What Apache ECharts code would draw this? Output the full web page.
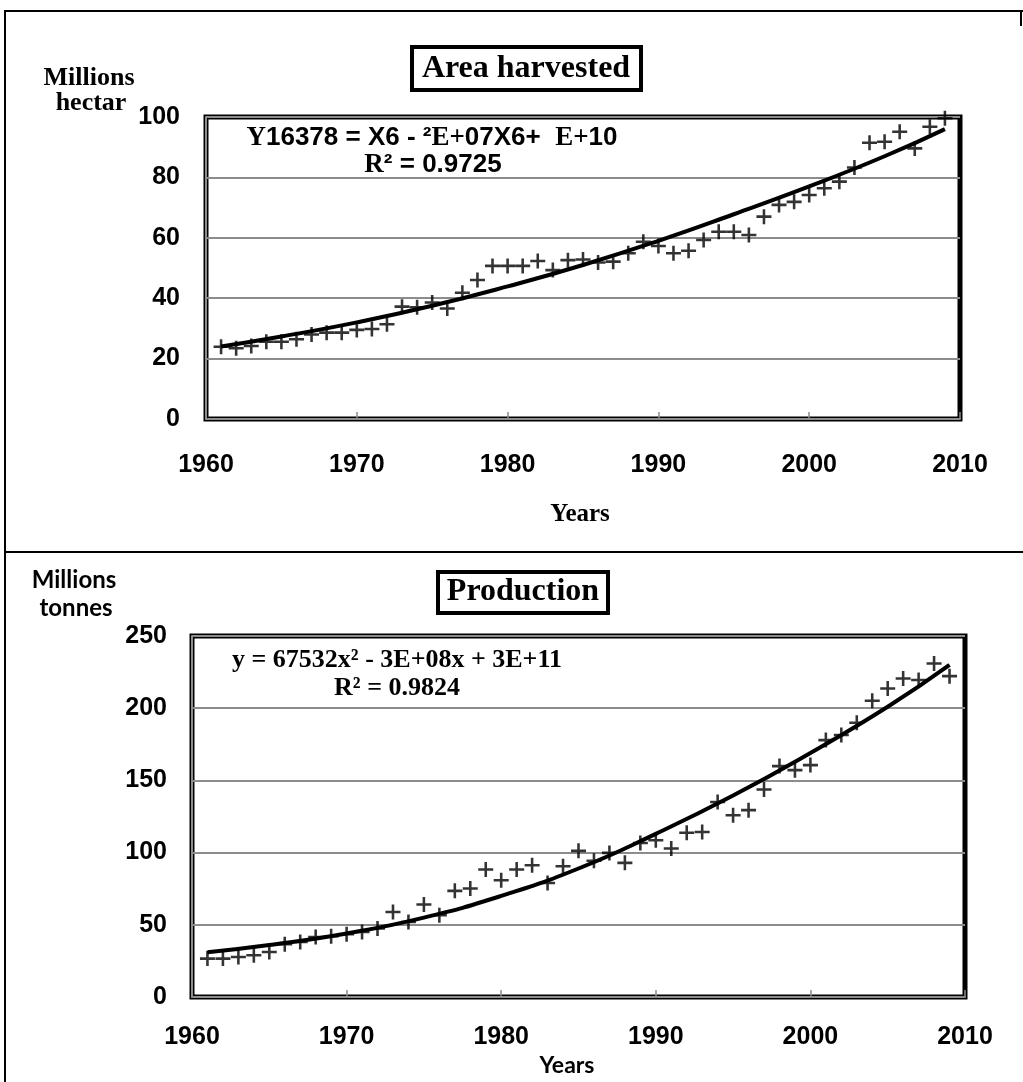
<!DOCTYPE html>
<html><head><meta charset="utf-8">
<script src="https://cdn.jsdelivr.net/npm/echarts@6/dist/echarts.min.js"></script>
<style>html,body{margin:0;padding:0;background:#fff}#c{width:1023px;height:1082px}</style>
</head><body><div id="c"></div>
<script>
// ---- data ----
const years = [1961,1962,1963,1964,1965,1966,1967,1968,1969,1970,1971,1972,1973,1974,1975,1976,1977,1978,1979,1980,1981,1982,1983,1984,1985,1986,1987,1988,1989,1990,1991,1992,1993,1994,1995,1996,1997,1998,1999,2000,2001,2002,2003,2004,2005,2006,2007,2008,2009];
const areaHarvested = [23.9,23.4,24.2,25.6,25.6,26.4,28.0,28.6,28.6,29.5,29.8,31.4,37.2,37.0,38.6,36.6,41.8,46.0,50.7,50.7,50.7,52.3,49.3,52.6,52.8,51.8,52.1,54.9,58.7,57.3,54.9,55.7,59.3,62.0,62.0,60.9,67.0,70.9,71.9,74.2,76.4,78.6,83.3,91.5,91.8,95.1,89.6,96.8,99.6];
const production = [26.6,26.6,27.7,28.9,31.2,36.5,38.1,41.6,42.1,43.4,45.0,47.4,58.9,52.0,64.0,56.6,73.5,75.1,88.3,80.9,88.3,91.3,79.0,90.6,101.2,94.4,99.8,92.9,106.7,108.6,102.8,113.7,114.3,135.1,125.9,129.4,143.7,159.9,157.1,160.6,177.9,181.4,189.9,205.1,213.7,220.6,219.5,231.0,222.2];
const trendYears = [1961,1965,1970,1975,1980,1985,1990,1995,2000,2005,2009];
const areaTrend = [24,27.3,32,37.5,43.9,51,59,67.8,77,87,96];
const productionTrend = [31,36,44,55,70,89,113,139.5,169,201,230];
const xTickYears = [1960,1970,1980,1990,2000,2010];
const areaTicks = [0,20,40,60,80,100];
const productionTicks = [0,50,100,150,200,250];

// ---- chart ----
const SANS = '"Liberation Sans", Arial, sans-serif';
const SERIF = '"Liberation Serif", "Times New Roman", serif';
const LATO = 'Lato, "Open Sans", sans-serif';
const plusPath = 'path://M5.8,0h2.4v5.8h5.8v2.4h-5.8v5.8h-2.4v-5.8h-5.8v-2.4h5.8z';

function xAxisCfg(gi, margin) {
  return {type:'value', gridIndex:gi, min:xTickYears[0], max:xTickYears[xTickYears.length-1], interval:10,
    axisLine:{show:true, onZero:false, lineStyle:{color:'#8c8c8c', width:2}},
    axisTick:{show:true, inside:true, length:7, lineStyle:{color:'#8c8c8c', width:1.5}},
    splitLine:{show:false},
    axisLabel:{margin:margin, color:'#000', fontFamily:SANS, fontWeight:'bold', fontSize:25, formatter:function(v){return String(v);}}};
}
function yAxisCfg(gi, ticks, margin) {
  return {type:'value', gridIndex:gi, min:ticks[0], max:ticks[ticks.length-1], interval:ticks[1]-ticks[0],
    axisLine:{show:true, onZero:false, lineStyle:{color:'#8c8c8c', width:2}},
    axisTick:{show:false},
    splitLine:{show:true, lineStyle:{color:'#8c8c8c', width:2}},
    axisLabel:{margin:margin, color:'#000', fontFamily:SANS, fontWeight:'bold', fontSize:25}};
}
function txt(x, y, text, font, extra) {
  return {type:'text', x:x, y:y, z:10, style:Object.assign({text:text, font:font, fill:'#000', align:'center', verticalAlign:'middle'}, extra||{})};
}
function box(x, y, w, h) {
  return {type:'rect', z:9, shape:{x:x, y:y, width:w, height:h}, style:{fill:'#fff', stroke:'#000', lineWidth:4}};
}
function ln(x1, y1, x2, y2) {
  return {type:'line', z:9, shape:{x1:x1, y1:y1, x2:x2, y2:y2}, style:{stroke:'#000', lineWidth:2}};
}

const chart = echarts.init(document.getElementById('c'), null, {renderer:'canvas'});
chart.setOption({
  animation:false,
  backgroundColor:'#fff',
  grid:[
    {left:206, top:117, width:754, height:302, show:true, borderColor:'#000', borderWidth:5, backgroundColor:'#fff'},
    {left:192, top:636, width:773, height:361, show:true, borderColor:'#000', borderWidth:5, backgroundColor:'#fff'}
  ],
  xAxis:[xAxisCfg(0, 34), xAxisCfg(1, 28)],
  yAxis:[yAxisCfg(0, areaTicks, 26), yAxisCfg(1, productionTicks, 25)],
  series:[
    {type:'line', xAxisIndex:0, yAxisIndex:0, data:trendYears.map((y,i)=>[y, areaTrend[i]]), smooth:true, showSymbol:false, lineStyle:{color:'#000', width:4}, z:2, silent:true},
    {type:'scatter', xAxisIndex:0, yAxisIndex:0, data:years.map((y,i)=>[y, areaHarvested[i]]), symbol:plusPath, symbolSize:15, itemStyle:{color:'#000'}, z:3},
    {type:'line', xAxisIndex:1, yAxisIndex:1, data:trendYears.map((y,i)=>[y, productionTrend[i]]), smooth:true, showSymbol:false, lineStyle:{color:'#000', width:4}, z:2, silent:true},
    {type:'scatter', xAxisIndex:1, yAxisIndex:1, data:years.map((y,i)=>[y, production[i]]), symbol:plusPath, symbolSize:15, itemStyle:{color:'#000'}, z:3}
  ],
  graphic:[
    ln(5, 11, 1023, 11), ln(5, 10, 5, 1082), ln(5, 552, 1023, 552), ln(1021, 11, 1021, 26),
    // top chart
    box(412, 47, 229, 43),
    txt(526, 69, 'Area harvested', 'bold 32px ' + SERIF),
    txt(89, 78, 'Millions', 'bold 26px ' + SERIF),
    txt(91, 103, 'hectar', 'bold 26px ' + SERIF),
    txt(432, 138, '{s|Y}{a|16378 = X6 - ²}{s|E+}{a|07X6+  }{s|E+}{a|10}', '', {rich:{
      s:{font:'bold 27px ' + SERIF, fill:'#000'}, a:{font:'bold 26px ' + SANS, fill:'#000'}}}),
    txt(433, 165, '{s|R}{a|² = 0.9725}', '', {rich:{
      s:{font:'bold 27px ' + SERIF, fill:'#000'}, a:{font:'bold 26px ' + SANS, fill:'#000'}}}),
    txt(580, 515, 'Years', 'bold 25px ' + SERIF),
    // bottom chart
    box(438, 572, 170, 41),
    txt(523, 592, 'Production', 'bold 32px ' + SERIF),
    txt(74, 580, 'Millions', 'bold 24px ' + LATO),
    txt(76, 608, 'tonnes', 'bold 24px ' + LATO),
    txt(397, 660, 'y = 67532x² - 3E+08x + 3E+11', 'bold 26px ' + SERIF),
    txt(397, 688, 'R² = 0.9824', 'bold 26px ' + SERIF),
    txt(567, 1066, 'Years', 'bold 23px ' + LATO)
  ]
});
</script>
</body></html>
